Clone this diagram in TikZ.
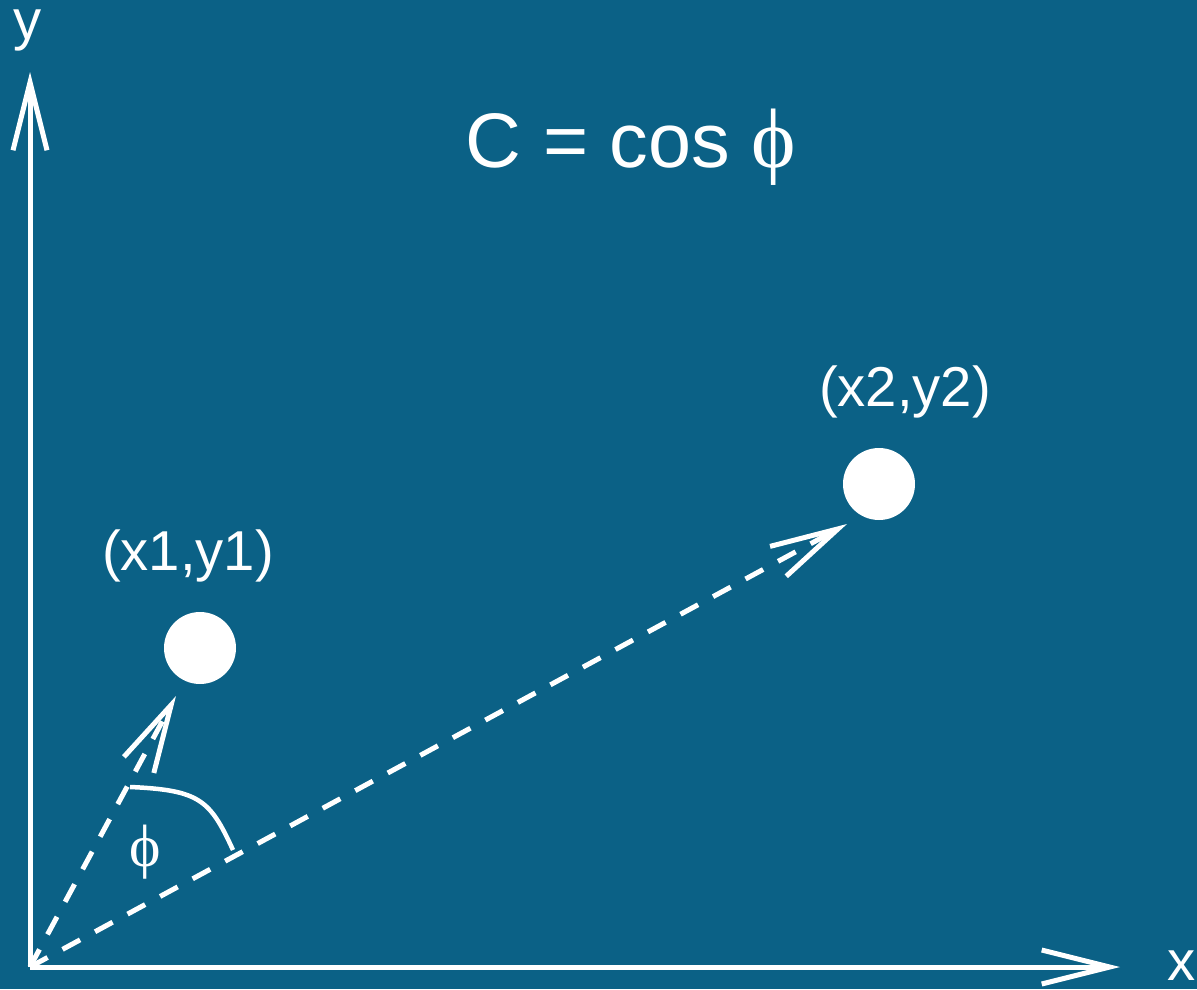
\documentclass[tikz,border=0pt]{standalone}
\usepackage{fontspec}
\setmainfont{Liberation Sans}
\newfontfamily\phifont{Liberation Serif}
\usetikzlibrary{positioning,arrows.meta}
\definecolor{bgblue}{RGB}{11,97,134}

\begin{document}
\begin{tikzpicture}[
            axis/.style={draw=white, line width=0.05cm, -{Straight Barb[length=0.68cm, width=0.34cm]}},
            vec/.style={axis, dash pattern=on 0.2cm off 0.17cm},
            pt/.style={circle, fill=white, minimum size=0.72cm, inner sep=0pt},
            lbl/.style={text=white, font=\fontsize{16}{19}\selectfont, inner sep=0pt},
            big/.style={text=white, font=\fontsize{22}{26}\selectfont, inner sep=0pt}
        ]
            \fill[bgblue] (0,0) rectangle (11.97,9.89);
            \useasboundingbox (0,0) rectangle (11.97,9.89);
            % axes
            \coordinate (o) at (0.30,0.22);
            \coordinate (ytip) at (0.30,9.17);
            \coordinate (xtip) at (11.20,0.22);
            \draw[axis] (o) -- (ytip);
            \draw[axis] (o) -- (xtip);
            \node[lbl] (ylab) at (0.28,9.59) {y};
            \node[lbl] (xlab) at (11.82,0.23) {x};
            % points
            \node[pt] (p1) at (2.00,3.41) {};
            \node[pt] (p2) at (8.79,5.05) {};
            \node[lbl] (p1lab) at (1.88,4.33) {(x1,y1)};
            \node[lbl] (p2lab) at (9.05,5.97) {(x2,y2)};
            \node[big] (title) at (6.31,8.42) {C = cos {\phifont\fontsize{24}{28}\selectfont ϕ}};
            % vectors
            \coordinate (t1) at (1.76,2.93);
            \coordinate (t2) at (8.47,4.65);
            \draw[vec] (o) -- (t1);
            \draw[vec] (o) -- (t2);
            % angle
            \coordinate (a1) at (1.30,2.02);
            \coordinate (a2) at (2.33,1.39);
            \draw[white, line width=0.045cm] (a1) .. controls (2.00,1.99) and (2.10,1.89) .. (a2);
            \node[text=white, inner sep=0pt, font=\phifont\fontsize{17}{20}\selectfont] (ang) at (1.45,1.37) {ϕ};
        \end{tikzpicture}
\end{document}
